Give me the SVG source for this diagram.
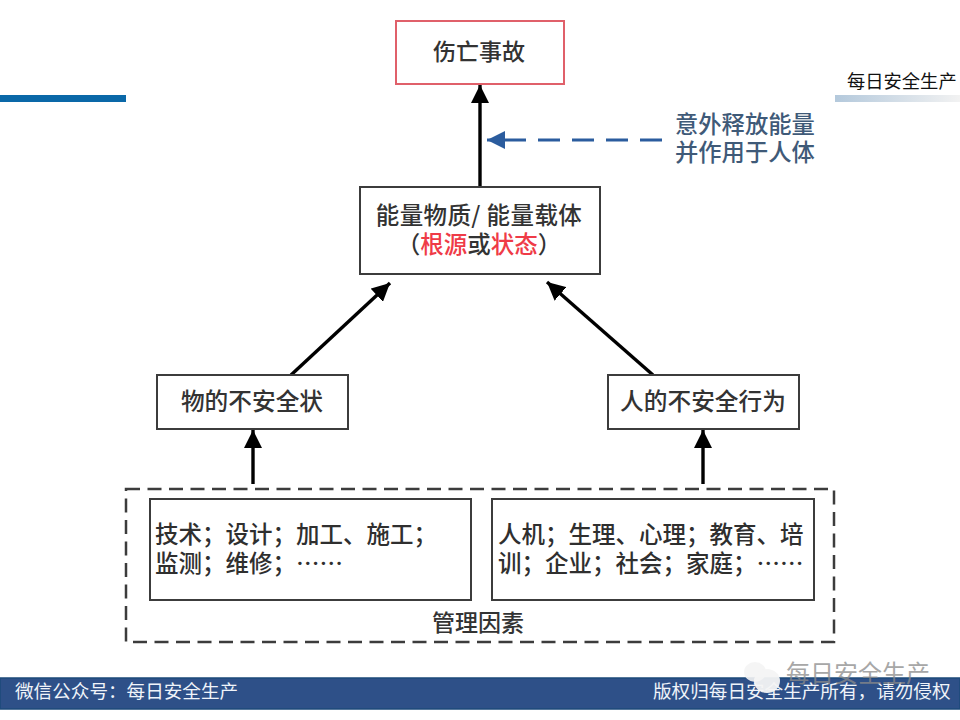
<svg xmlns="http://www.w3.org/2000/svg" width="960" height="720" viewBox="0 0 960 720">
<style>
text{font-family:"Noto Sans CJK SC","Noto Sans",sans-serif}
.n{fill:#fff;stroke:#3c3c3c;stroke-width:2}
.t{font-size:23px;fill:#333;font-weight:500;text-anchor:middle}
.b{font-size:23.5px;fill:#2f2f2f;font-weight:500}
.a{stroke:#000;stroke-width:3.4;fill:none}
.f{font-size:18.6px;fill:#f0f4fa}
.r{fill:#ef3b47;font-weight:500}
</style>
<defs>
<linearGradient id="g" x1="0" x2="1" y1="0" y2="0"><stop offset="0" stop-color="#b4c9dc"/><stop offset="1" stop-color="#f2f2f2"/></linearGradient>
<marker id="ah" markerUnits="userSpaceOnUse" markerWidth="20" markerHeight="18" refX="18" refY="9" orient="auto"><path d="M0 0L18 9L0 18Z" fill="#000"/></marker>
<marker id="ab" markerUnits="userSpaceOnUse" markerWidth="20" markerHeight="18" refX="18" refY="9" orient="auto"><path d="M0 0L18 9L0 18Z" fill="#2b5c9e"/></marker>
</defs>
<rect width="960" height="720" fill="#fff"/>
<g id="header">
<rect x="0" y="95" width="126" height="7" fill="#0a68a8"/>
<rect x="835" y="95" width="125" height="7" fill="url(#g)"/>
<text x="847" y="88" font-size="18.3" fill="#111">每日安全生产</text>
</g>
<g id="connectors">
<path class="a" d="M480 187V85" marker-end="url(#ah)"/>
<path class="a" d="M291 375L390 283" marker-end="url(#ah)"/>
<path class="a" d="M653 375L547 282" marker-end="url(#ah)"/>
<path class="a" d="M253 484V430" marker-end="url(#ah)"/>
<path class="a" d="M703 484V430" marker-end="url(#ah)"/>
<path d="M662 140H487" fill="none" stroke="#2b5c9e" stroke-width="3" stroke-dasharray="22 12" marker-end="url(#ab)"/>
</g>
<g id="node-accident">
<rect x="396" y="21" width="168" height="63" fill="#fff" stroke="#e0606a" stroke-width="2"/>
<text class="t" x="479" y="60">伤亡事故</text>
</g>
<g id="label-energy">
<text x="675" y="133" font-size="23.3" font-weight="500" fill="#3f5a78">意外释放能量</text>
<text x="675" y="161" font-size="23.3" font-weight="500" fill="#3f5a78">并作用于人体</text>
</g>
<g id="node-energy">
<rect class="n" x="360" y="187" width="240" height="87"/>
<text class="t" x="479" y="224" style="font-size:23.5px;letter-spacing:.4px">能量物质/ 能量载体</text>
<text class="t" x="479" y="253" style="font-size:23.5px">（<tspan class="r">根源</tspan>或<tspan class="r">状态</tspan>）</text>
</g>
<g id="node-thing">
<rect class="n" x="157" y="375" width="191" height="54"/>
<text class="t" x="252" y="410" style="font-size:23.7px">物的不安全状</text>
</g>
<g id="node-human">
<rect class="n" x="608" y="375" width="191" height="54"/>
<text class="t" x="703" y="410" style="font-size:23.7px">人的不安全行为</text>
</g>
<g id="node-management">
<rect x="126" y="489" width="708" height="153" fill="#fff" stroke="#3c3c3c" stroke-width="2.5" stroke-dasharray="14 7.5"/>
<text class="t" x="478" y="631">管理因素</text>
</g>
<g id="node-tech">
<rect class="n" x="150" y="499" width="321" height="101"/>
<text class="b" x="155" y="543">技术；设计；加工、施工；</text>
<text class="b" x="155" y="572">监测；维修；……</text>
</g>
<g id="node-social">
<rect class="n" x="492" y="499" width="322" height="101"/>
<text class="b" x="498" y="543">人机；生理、心理；教育、培</text>
<text class="b" x="498" y="572">训；企业；社会；家庭；……</text>
</g>
<g id="footer">
<rect x="0" y="678" width="960" height="31" fill="#2e5088" stroke="#1c4a7a" stroke-width="1.5"/>
<text class="f" x="15" y="698">微信公众号：每日安全生产</text>
<text class="f" x="653" y="698">版权归每日安全生产所有，请勿侵权</text>
</g>
<g id="watermark">
<ellipse cx="755" cy="672" rx="11" ry="10" fill="#f4f4f4" opacity=".9"/>
<ellipse cx="767" cy="681" rx="13" ry="12" fill="#f4f4f4" opacity=".95"/>
<text x="786" y="682" font-size="24" fill="#8a8a8a" opacity=".75">每日安全生产</text>
</g>
</svg>
